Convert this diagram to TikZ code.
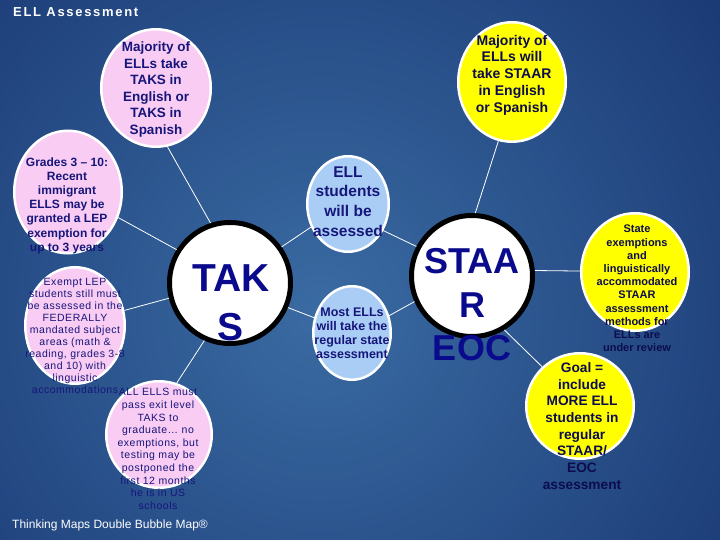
\documentclass[tikz,border=0pt]{standalone}
\usepackage{fontspec}
\setmainfont{Liberation Sans}
\newfontfamily\spacedfont[LetterSpace=5]{Liberation Sans}
\newfontfamily\titlefont[LetterSpace=13]{Liberation Sans}
\usetikzlibrary{shapes.geometric}
\definecolor{bgin}{HTML}{3A6BA2}
\definecolor{bgout}{HTML}{0C2361}
\definecolor{pinkfill}{HTML}{F9CCF3}
\definecolor{bluefill}{HTML}{A9CDF5}
\definecolor{yellowfill}{HTML}{FFFF00}
\definecolor{navytext}{HTML}{16167A}
\definecolor{darktext}{HTML}{0C0C4E}
\definecolor{bigtext}{HTML}{0A0A8C}
\tikzset{
  bubble/.style={ellipse, draw=white, line width=2.5pt, inner sep=0pt},
  pinkb/.style={bubble, fill=pinkfill},
  blueb/.style={bubble, fill=bluefill},
  yellowb/.style={bubble, fill=yellowfill},
  core/.style={circle, draw=black, line width=5pt, fill=white, inner sep=0pt, minimum size=121pt},
  conn/.style={draw=white, line width=0.8pt},
  btext/.style={align=center, inner sep=0pt},
  navyt/.style={btext, text=navytext},
  darkt/.style={btext, text=darktext},
  bigt/.style={btext, text=bigtext},
}
\begin{document}
\begin{tikzpicture}[x=1pt,y=-1pt]
\useasboundingbox (0,0) rectangle (720,540);
\fill[bgout] (0,0) rectangle (720,540);
\begin{scope}
\clip (0,0) rectangle (720,540);
\shade[inner color=bgin, outer color=bgout] (320,310) circle (740pt);
\end{scope}

% bubbles
\node[pinkb, minimum width=109.5pt, minimum height=117.5pt] (p1) at (156,88) {};
\node[pinkb, minimum width=107.5pt, minimum height=122.5pt] (p2) at (68,192) {};
\node[pinkb, minimum width=99.5pt, minimum height=116.5pt] (p3) at (75,325.5) {};
\node[pinkb, minimum width=105.5pt, minimum height=106.5pt] (p4) at (159,434.5) {};
\node[core] (taks) at (230,283) {};
\node[blueb, minimum width=81.5pt, minimum height=95.5pt] (b1) at (348,204) {};
\node[blueb, minimum width=77.5pt, minimum height=93.5pt] (b2) at (352,333) {};
\node[core] (staar) at (472,276) {};
\node[yellowb, minimum width=107.5pt, minimum height=119.5pt] (y1) at (512,82) {};
\node[yellowb, minimum width=107.5pt, minimum height=117.5pt] (y2) at (635,272) {};
\node[yellowb, minimum width=107.5pt, minimum height=105.5pt] (y3) at (580,406) {};

% connectors
\draw[conn] (taks.108) -- (p1.-79);
\draw[conn] (taks.148) -- (p2.-27);
\draw[conn] (taks.-166) -- (p3.17);
\draw[conn] (taks.-114) -- (p4.71);
\draw[conn] (taks.35) -- (b1.-148);
\draw[conn] (taks.-23) -- (b2.158);
\draw[conn] (staar.152) -- (b1.-37);
\draw[conn] (staar.-156) -- (b2.25);
\draw[conn] (staar.87) -- (y1.-103);
\draw[conn] (staar.5) -- (y2.179);
\draw[conn] (staar.-59) -- (y3.134);

% texts
\node[navyt, font=\fontsize{13.5}{16.6}\selectfont\bfseries] (t1) at (156,89.5)
  {Majority of\\ELLs take\\TAKS in\\English or\\TAKS in\\Spanish};
\node[navyt, font=\fontsize{12}{14.2}\selectfont\bfseries] (t2) at (67,205.5)
  {Grades 3 – 10:\\Recent\\immigrant\\ELLS may be\\granted a LEP\\exemption for\\up to 3 years};
\node[navyt, font=\spacedfont\fontsize{10.5}{12}\selectfont] (t3) at (75,336)
  {Exempt LEP\\students still must\\be assessed in the\\FEDERALLY\\mandated subject\\areas (math \&\\reading, grades 3-8\\and 10) with\\linguistic\\accommodations};
\node[navyt, font=\spacedfont\fontsize{10.5}{12.6}\selectfont] (t4) at (158,449)
  {ALL ELLS must\\pass exit level\\TAKS to\\graduate… no\\exemptions, but\\testing may be\\postponed the\\first 12 months\\he is in US\\schools};
\node[bigt, font=\fontsize{39}{49}\selectfont\bfseries] (t5) at (231,302.5) {TAK\\S};
\node[navyt, font=\fontsize{15.5}{19.6}\selectfont\bfseries] (t6) at (348,201.5)
  {ELL\\students\\will be\\assessed};
\node[navyt, font=\fontsize{12.5}{14}\selectfont\bfseries] (t7) at (352,333)
  {Most ELLs\\will take the\\regular state\\assessment};
\node[bigt, font=\fontsize{36}{43.5}\selectfont\bfseries] (t8) at (472,305) {STAA\\R\\EOC};
\node[darkt, font=\fontsize{14}{16.8}\selectfont\bfseries] (t9) at (512,75)
  {Majority of\\ELLs will\\take STAAR\\in English\\or Spanish};
\node[darkt, font=\fontsize{11}{13.2}\selectfont\bfseries] (t10) at (637,288.5)
  {State\\exemptions\\and\\linguistically\\accommodated\\STAAR\\assessment\\methods for\\ELLs are\\under review};
\node[darkt, font=\fontsize{13.7}{16.7}\selectfont\bfseries] (t11) at (582,426)
  {Goal =\\include\\MORE ELL\\students in\\regular\\STAAR/\\EOC\\assessment};

\node[anchor=west, inner sep=0pt, text=white, font=\titlefont\fontsize{13}{15}\selectfont\bfseries] (title) at (13,12) {ELL Assessment};
\node[anchor=west, inner sep=0pt, text=white, font=\fontsize{12}{14}\selectfont] (footer) at (12,525.5) {Thinking Maps Double Bubble Map®};
\end{tikzpicture}
\end{document}
